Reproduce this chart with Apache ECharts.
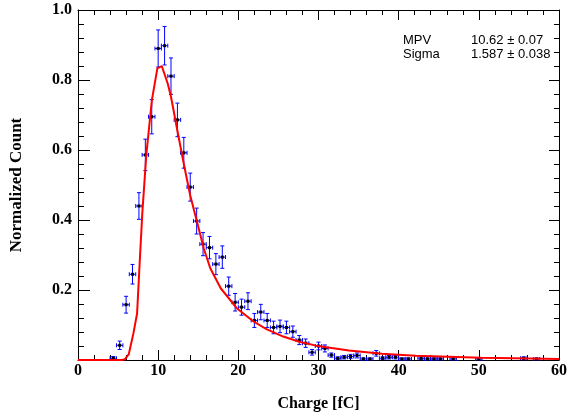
<!DOCTYPE html>
<html><head><meta charset="utf-8">
<script src="https://cdn.jsdelivr.net/npm/echarts@6/dist/echarts.min.js"></script>
<style>html,body{margin:0;padding:0;background:#fff}#c{width:570px;height:419px}</style>
</head><body><div id="c"></div>
<script>
// Histogram bins (centres, normalized counts, errors)
const binCenters = [4.4, 5.2, 6.0, 6.8, 7.6, 8.4, 9.2, 10.0, 10.8, 11.6, 12.4, 13.2, 14.0, 14.8, 15.6, 16.4, 17.2, 18.0, 18.8, 19.6, 20.4, 21.2, 22.0, 22.8, 23.6, 24.4, 25.2, 26.0, 26.8, 27.6, 28.4, 29.2, 30.0, 30.8, 31.6, 32.4, 33.2, 34.0, 34.8, 35.6, 36.4, 37.2, 38.0, 38.8, 39.6, 40.4, 41.2, 42.8, 43.6, 44.4, 45.2, 46.8, 50.0, 55.6, 57.2];
const counts = [0.005, 0.042, 0.158, 0.245, 0.44, 0.586, 0.695, 0.890, 0.898, 0.811, 0.686, 0.592, 0.494, 0.397, 0.331, 0.321, 0.274, 0.294, 0.211, 0.165, 0.151, 0.168, 0.113, 0.137, 0.113, 0.093, 0.096, 0.093, 0.081, 0.057, 0.048, 0.022, 0.040, 0.033, 0.014, 0.005, 0.008, 0.010, 0.013, 0.003, 0.003, 0.019, 0.005, 0.008, 0.008, 0.003, 0.003, 0.005, 0.003, 0.003, 0.003, 0.003, 0.003, 0.005, 0.003];
const errors = [0.005, 0.012, 0.024, 0.028, 0.038, 0.045, 0.049, 0.053, 0.055, 0.052, 0.048, 0.044, 0.040, 0.037, 0.033, 0.032, 0.030, 0.032, 0.026, 0.025, 0.023, 0.024, 0.020, 0.022, 0.020, 0.018, 0.018, 0.018, 0.016, 0.013, 0.012, 0.008, 0.011, 0.010, 0.006, 0.004, 0.005, 0.006, 0.007, 0.003, 0.003, 0.008, 0.004, 0.005, 0.005, 0.003, 0.003, 0.004, 0.003, 0.003, 0.003, 0.003, 0.003, 0.004, 0.003];
const binHalfWidth = 0.4;

// Fit curve
const fitX = [0, 5.5, 5.84, 6.34, 6.91, 7.37, 7.69, 8.02, 8.52, 9.22, 9.9, 10.45, 11.19, 11.6, 12.4, 13.2, 14.0, 14.9, 15.7, 16.5, 17.8, 19.8, 21.9, 23.5, 25.6, 27.6, 29.7, 33.8, 37.9, 42.1, 46.2, 50.3, 54.4, 60];
const fitY = [0, 0, 0.002, 0.017, 0.076, 0.133, 0.276, 0.419, 0.586, 0.743, 0.833, 0.84, 0.79, 0.752, 0.655, 0.56, 0.47, 0.39, 0.318, 0.262, 0.205, 0.148, 0.11, 0.088, 0.067, 0.052, 0.041, 0.027, 0.018, 0.012, 0.0095, 0.0067, 0.005, 0.003];

const statNames = ['MPV', 'Sigma'];
const statValues = ['10.62 \u00b1 0.07', '1.587 \u00b1 0.038'];

const chart = echarts.init(document.getElementById('c'));
const serif = '"Liberation Serif", "Times New Roman", serif';
const sans = '"Liberation Sans", Arial, sans-serif';
const black = '#000';
function axisCommon(showLabel, majorLen, minorLen){
  return {
    axisLine: {show: true, onZero: false, lineStyle: {color: black, width: 1}},
    axisTick: {show: true, inside: true, length: majorLen, lineStyle: {color: black, width: 1}},
    minorTick: {show: true, splitNumber: 5, length: minorLen, lineStyle: {color: black, width: 1}},
    splitLine: {show: false},
    axisLabel: {show: showLabel}
  };
}
const xBottom = Object.assign(axisCommon(true, 10, 5), {
  type: 'value', position: 'bottom', min: 0, max: 60, interval: 10,
  name: 'Charge [fC]', nameLocation: 'middle', nameGap: 36,
  nameTextStyle: {fontFamily: serif, fontWeight: 'bold', fontSize: 16, color: black}
});
xBottom.axisLabel = {show: true, fontFamily: serif, fontWeight: 'bold', fontSize: 16, color: black, margin: 3, showMinLabel: true, showMaxLabel: true};
const xTop = Object.assign(axisCommon(false, 10, 5), {type: 'value', position: 'top', min: 0, max: 60, interval: 10});
const yLeft = Object.assign(axisCommon(true, 12, 6), {
  type: 'value', position: 'left', min: 0, max: 1, interval: 0.2,
  name: 'Normalized Count', nameLocation: 'middle', nameGap: 53, nameRotate: 90,
  nameTextStyle: {fontFamily: serif, fontWeight: 'bold', fontSize: 17, color: black}
});
yLeft.axisLabel = {show: true, fontFamily: serif, fontWeight: 'bold', fontSize: 16, color: black, margin: 6,
  formatter: v => v === 0 ? '' : v.toFixed(1)};
const yRight = Object.assign(axisCommon(false, 10, 5), {type: 'value', position: 'right', min: 0, max: 1, interval: 0.2});

const blue = '#0000ff';
chart.setOption({
  animation: false,
  backgroundColor: '#fff',
  grid: {left: 76, right: 8, top: 10, bottom: 59, containLabel: false},
  xAxis: [xBottom, xTop],
  yAxis: [yLeft, yRight],
  graphic: statNames.map((n, i) => ({type: 'text', z: 100, style: {x: 403, y: 40 + i * 14, text: n, font: '13px ' + sans, fill: black, verticalAlign: 'middle'}}))
    .concat(statValues.map((t, i) => ({type: 'text', z: 100, style: {x: 471, y: 40 + i * 14, text: t, font: '13px ' + sans, fill: black, verticalAlign: 'middle'}}))),
  series: [
    {
      type: 'custom', xAxisIndex: 0, yAxisIndex: 0, z: 3,
      data: binCenters.map((x, i) => [x, counts[i], errors[i]]),
      renderItem: function(params, api){
        const x = api.value(0), y = api.value(1), e = api.value(2);
        const c = api.coord([x, y]);
        const l = api.coord([x - binHalfWidth, y]);
        const r = api.coord([x + binHalfWidth, y]);
        const t = api.coord([x, y + e]);
        const b = api.coord([x, y - e]);
        const st = {stroke: blue, lineWidth: 1};
        return {type: 'group', children: [
          {type: 'line', shape: {x1: l[0], y1: c[1], x2: r[0], y2: c[1]}, style: st},
          {type: 'line', shape: {x1: l[0], y1: c[1] - 2, x2: l[0], y2: c[1] + 2}, style: st},
          {type: 'line', shape: {x1: r[0], y1: c[1] - 2, x2: r[0], y2: c[1] + 2}, style: st},
          {type: 'line', shape: {x1: c[0], y1: t[1], x2: c[0], y2: b[1]}, style: st},
          {type: 'line', shape: {x1: c[0] - 2, y1: t[1], x2: c[0] + 2, y2: t[1]}, style: st},
          {type: 'line', shape: {x1: c[0] - 2, y1: b[1], x2: c[0] + 2, y2: b[1]}, style: st},
          {type: 'rect', shape: {x: c[0] - 1.5, y: c[1] - 1.5, width: 3, height: 3}, style: {fill: black}}
        ]};
      }
    },
    {
      type: 'line', xAxisIndex: 0, yAxisIndex: 0, z: 5,
      data: fitX.map((x, i) => [x, fitY[i]]),
      showSymbol: false, smooth: false,
      lineStyle: {color: '#ff0000', width: 2}
    }
  ]
});
</script></body></html>
